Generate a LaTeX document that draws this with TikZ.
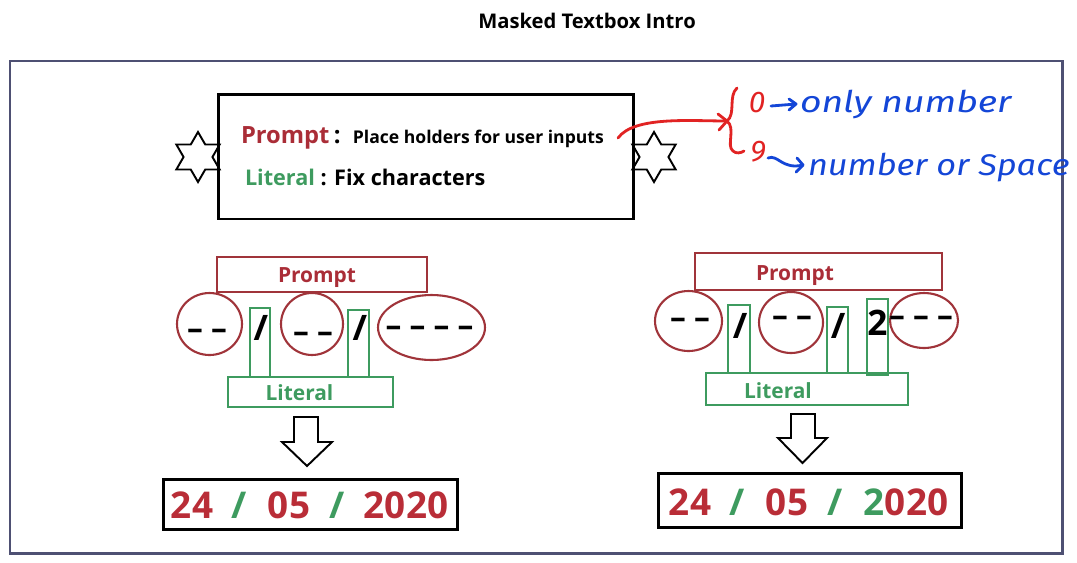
\documentclass[tikz,border=0pt]{standalone}
\usepackage{fontspec}
\setmainfont{Open Sans}
\newfontfamily\hand{Fira Sans}
\usetikzlibrary{shapes.geometric}
\definecolor{pline}{RGB}{160,52,58}
\definecolor{ptext}{RGB}{170,45,55}
\definecolor{lgreen}{RGB}{62,155,95}
\definecolor{frameblue}{RGB}{78,80,115}
\definecolor{penred}{RGB}{225,35,35}
\definecolor{penblue}{RGB}{20,70,215}
\definecolor{numred}{RGB}{185,45,55}
\begin{document}
\begin{tikzpicture}[x=0.02cm,y=-0.02cm,
  every node/.style={inner sep=0pt, outer sep=0pt},
  pbox/.style={draw=pline, line width=1.2pt, rectangle},
  lbox/.style={draw=lgreen, line width=1.3pt, rectangle},
  pell/.style={draw=pline, line width=1.2pt, ellipse},
  blkbox/.style={draw=black, line width=1.7pt, rectangle},
  hexstar/.style={draw=black, line width=1.1pt, star, star points=6, star point ratio=1.73, minimum size=1cm},
  blockarrow/.style={draw=black, line width=1.1pt, fill=white, line join=miter},
  lbl/.style={font=\bfseries\fontsize{11.9}{12}\selectfont},
  dashtxt/.style={font=\bfseries\fontsize{18}{18}\selectfont},
  sltxt/.style={font=\bfseries\fontsize{20}{20}\selectfont},
  num/.style={font=\bfseries\fontsize{21}{21}\selectfont, anchor=base},
  pen/.style={line width=1.6pt, line cap=round, line join=round},
  hw/.style={font=\hand\itshape\fontsize{17}{17}\selectfont, text=penblue, anchor=base west}
]
\useasboundingbox (0,0) rectangle (1077,562);

% title and frame
\node[font=\bfseries\fontsize{11.5}{12}\selectfont, anchor=base] (title) at (587,28) {Masked Textbox Intro};
\draw[frameblue, line width=1.7pt] (10,61) rectangle (1062,553);

% top box
\node[blkbox, minimum width=8.32cm, minimum height=2.5cm] (tb) at (426,156.5) {};
\node[hexstar] (starL) at (198,157) {};
\node[hexstar] (starR) at (654,157) {};
\node[anchor=base west, font=\bfseries] (tp) at (241,143)
  {{\fontsize{13.5}{14}\selectfont\color{ptext}Prompt}\hspace{2.5pt}{\fontsize{13.5}{14}\selectfont:}\hspace{7pt}{\fontsize{10}{11}\selectfont Place holders for user inputs}};
\node[anchor=base west, font=\bfseries\fontsize{12.3}{13}\selectfont] (tl) at (245,185)
  {{\color{lgreen}Literal} : Fix characters};

% handwritten notes
\coordinate (cs) at (618,138);
\coordinate (ce) at (727,121);
\draw[pen, penred] (cs) .. controls (634,116) and (690,121) .. (ce);
\draw[pen, penred] (718,114) -- (ce) -- (719,130);
\draw[pen, penred] (737,88) .. controls (728,96) and (736,114) .. (727,121)
  .. controls (736,128) and (726,146) .. (733,151) .. controls (736,154) and (741,153) .. (744,151);
\node[font=\hand\itshape\fontsize{17}{17}\selectfont, text=penred] (z0) at (757,103) {0};
\node[font=\hand\itshape\fontsize{17}{17}\selectfont, text=penred] (z9) at (758,152) {9};
\coordinate (a1s) at (771,106);
\coordinate (a1e) at (796,104);
\draw[pen, penblue] (a1s) -- (a1e);
\draw[pen, penblue] (789,99) -- (a1e) -- (789,110);
\node[hw] (h1) at (800,112) {\scalebox{1.25}[1]{only number}};
\coordinate (a2s) at (768,158);
\coordinate (a2e) at (803,165);
\draw[pen, penblue] (a2s) .. controls (778,154) and (782,170) .. (a2e);
\draw[pen, penblue] (797,158) -- (a2e) -- (796,172);
\node[hw] (h2) at (808,175) {\scalebox{1.15}[1]{number or Space}};

% ---------- left mask ----------
\node[pbox, minimum width=4.2cm, minimum height=0.7cm] (pL) at (322,274.5) {};
\node[lbl, text=ptext, anchor=base] (pLt) at (317,282) {Prompt};
\node[pell, minimum width=1.3cm, minimum height=1.24cm] (e1L) at (209.5,324) {};
\node[pell, minimum width=1.24cm, minimum height=1.24cm] (e2L) at (312,324) {};
\node[pell, minimum width=2.14cm, minimum height=1.3cm] (e3L) at (431.5,327.5) {};
\node[lbox, minimum width=0.4cm, minimum height=1.38cm] (b1L) at (260,342.5) {};
\node[lbox, minimum width=0.42cm, minimum height=1.34cm] (b2L) at (358.5,343.5) {};
\node[lbox, minimum width=3.3cm, minimum height=0.6cm] (lL) at (310.5,392) {};
\node[lbl, text=lgreen, anchor=base] (lLt) at (299.5,400) {Literal};
\node[dashtxt] (d1L) at (207,334) {– –};
\node[dashtxt] (d2L) at (313,337) {– –};
\node[dashtxt] (d3L) at (429.5,331) {– – – –};
\node[sltxt] (s1L) at (261,328) {/};
\node[sltxt] (s2L) at (360,328) {/};
\draw[blockarrow] (294,417) -- (294,442) -- (282,442) -- (307,466) -- (332,442) -- (318,442) -- (318,417) -- cycle;
\node[blkbox, minimum width=5.9cm, minimum height=1.0cm] (rL) at (310.5,504) {};
\node[num, text=numred] (rL1) at (192,518) {24};
\node[num, text=lgreen] (rL2) at (239,518) {/};
\node[num, text=numred] (rL3) at (289,518) {05};
\node[num, text=lgreen] (rL4) at (337,518) {/};
\node[num, text=numred] (rL5) at (406,518) {2020};

% ---------- right mask ----------
\node[pbox, minimum width=4.94cm, minimum height=0.74cm] (pR) at (818.5,271.5) {};
\node[lbl, text=ptext, anchor=base] (pRt) at (795,280) {Prompt};
\node[pell, minimum width=1.34cm, minimum height=1.2cm] (e1R) at (688.5,321) {};
\node[pell, minimum width=1.28cm, minimum height=1.22cm] (e2R) at (791,322.5) {};
\node[pell, minimum width=1.36cm, minimum height=1.1cm] (e3R) at (924,320.5) {};
\node[lbox, minimum width=0.44cm, minimum height=1.36cm] (b1R) at (739,339) {};
\node[lbox, minimum width=0.42cm, minimum height=1.32cm] (b2R) at (837.5,340) {};
\node[lbox, minimum width=0.42cm, minimum height=1.52cm] (b3R) at (877.5,337) {};
\node[lbox, minimum width=4.04cm, minimum height=0.64cm] (lR) at (807,389) {};
\node[lbl, text=lgreen, anchor=base] (lRt) at (778,398) {Literal};
\node[dashtxt] (d1R) at (690,323) {– –};
\node[dashtxt] (d2R) at (792,321) {– –};
\node[dashtxt] (d3R) at (921,321) {– – –};
\node[sltxt] (s1R) at (740,326) {/};
\node[sltxt] (s2R) at (838,326) {/};
\node[sltxt, anchor=base] (t2R) at (877.5,335) {2};
\draw[blockarrow] (791,414) -- (791,438) -- (778,438) -- (802.5,463) -- (827,438) -- (815,438) -- (815,414) -- cycle;
\node[blkbox, minimum width=6.08cm, minimum height=1.08cm] (rR) at (810,500) {};
\node[num, text=numred] (rR1) at (690,515) {24};
\node[num, text=lgreen] (rR2) at (737,515) {/};
\node[num, text=numred] (rR3) at (787,515) {05};
\node[num, text=lgreen] (rR4) at (835,515) {/};
\node[num] (rR5) at (906,515) {{\color{lgreen}2}{\color{numred}020}};
\end{tikzpicture}
\end{document}
